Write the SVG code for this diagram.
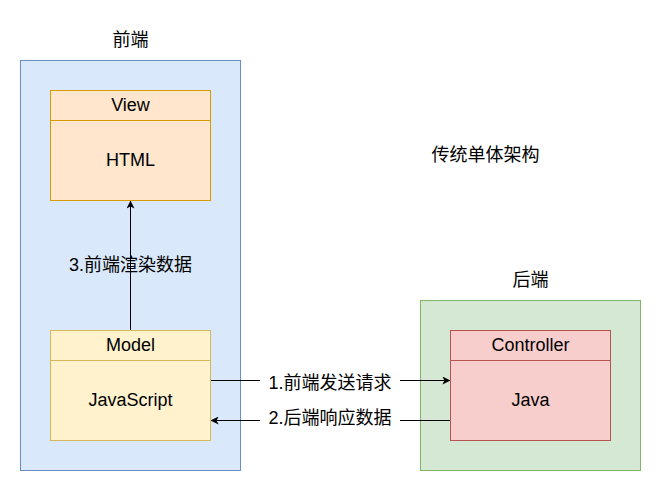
<svg xmlns="http://www.w3.org/2000/svg" width="661" height="491" viewBox="0 0 661 491">
<defs>
<marker id="arr" viewBox="0 0 10 10" refX="9.5" refY="5" markerWidth="8" markerHeight="8" markerUnits="userSpaceOnUse" orient="auto">
<path d="M0,0 L10,5 L0,10 L2.5,5 Z" fill="#000"/>
</marker>
<style>
text{font-family:"Liberation Sans","Noto Sans CJK SC",sans-serif;font-size:18px;fill:#000;text-anchor:middle;dominant-baseline:central}
.conn{stroke:#000;stroke-width:1;fill:none}
</style>
</defs>
<rect width="661" height="491" fill="#fff"/>
<g id="frontend">
<rect x="20.5" y="60.5" width="220" height="410" fill="#dae8fc" stroke="#6c8ebf"/>
<text x="130.5" y="40">前端</text>
</g>
<g id="backend">
<rect x="420.5" y="300.5" width="220" height="170" fill="#d5e8d4" stroke="#82b366"/>
<text x="530.5" y="280">后端</text>
</g>
<g id="title">
<text x="485.5" y="155">传统单体架构</text>
</g>
<g id="view">
<rect x="50.5" y="90.5" width="160" height="110" fill="#ffe6cc" stroke="#d79b00"/>
<line x1="50.5" y1="120.5" x2="210.5" y2="120.5" stroke="#d79b00"/>
<text x="130.5" y="105">View</text>
<text x="130.5" y="160">HTML</text>
</g>
<g id="model">
<rect x="50.5" y="330.5" width="160" height="110" fill="#fff2cc" stroke="#d6b656"/>
<line x1="50.5" y1="360.5" x2="210.5" y2="360.5" stroke="#d6b656"/>
<text x="130.5" y="345">Model</text>
<text x="130.5" y="400">JavaScript</text>
</g>
<g id="controller">
<rect x="450.5" y="330.5" width="160" height="110" fill="#f8cecc" stroke="#b85450"/>
<line x1="450.5" y1="360.5" x2="610.5" y2="360.5" stroke="#b85450"/>
<text x="530.5" y="345">Controller</text>
<text x="530.5" y="400">Java</text>
</g>
<g id="connectors">
<line class="conn" x1="130.5" y1="330" x2="130.5" y2="201" marker-end="url(#arr)"/>
<text x="130.5" y="265">3.前端渲染数据</text>
<line class="conn" x1="211" y1="380.5" x2="260" y2="380.5"/>
<line class="conn" x1="400" y1="380.5" x2="450" y2="380.5" marker-end="url(#arr)"/>
<text x="330" y="383">1.前端发送请求</text>
<line class="conn" x1="450" y1="420.5" x2="400" y2="420.5"/>
<line class="conn" x1="260" y1="420.5" x2="211" y2="420.5" marker-end="url(#arr)"/>
<text x="330" y="418">2.后端响应数据</text>
</g>
</svg>
